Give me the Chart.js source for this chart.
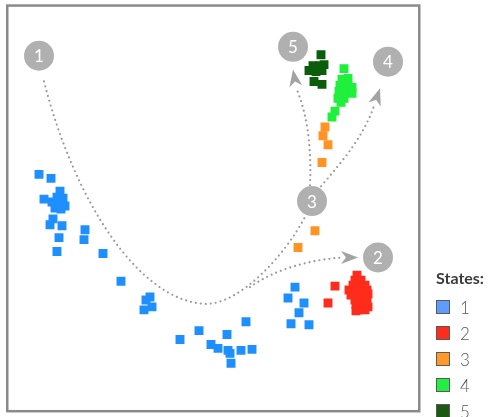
<!DOCTYPE html>
<html>
<head>
<meta charset="utf-8">
<script src="https://cdn.jsdelivr.net/npm/chart.js@4"></script>
<style>
  html, body { margin: 0; padding: 0; background: #fff; }
  #wrap { position: relative; width: 491px; height: 417px; }
  #legend { position: absolute; left: 436px; top: 268px; font-family: Lato, "Open Sans", sans-serif; color: #555; }
  #legend .title { font-weight: bold; font-size: 16px; color: #3a3a3a; margin-bottom: 7px; }
  #legend .item { height: 26px; display: flex; align-items: center; font-size: 17px; font-weight: 300; }
  #legend .sw { width: 12px; height: 12px; border: 1px solid #5a5a5a; margin-right: 10px; }
</style>
</head>
<body>
<div id="wrap">
  <canvas id="chart" width="491" height="417"></canvas>
  <div id="legend"></div>
</div>
<script>
"use strict";

// embedding coordinates, arbitrary units
var state1 = [
  [31, 239], [43, 235], [52, 222], [36, 214], [49, 216], [55, 215], [44, 211], [51, 209],
  [57, 207], [47, 205], [53, 204], [45, 194], [42, 188], [54, 187], [51, 175], [77, 183],
  [76, 173], [49, 161], [95, 159], [113, 131], [142, 115], [138, 112], [144, 105], [136, 102],
  [172, 72], [191, 81], [203, 67], [210, 63], [219, 77], [220, 61], [222, 58], [223, 48],
  [233, 61], [238, 90], [244, 62], [287, 125], [280, 114], [296, 109], [291, 99], [283, 88],
  [301, 87]
];
var state2 = [
  [327, 126], [320, 109],
  [349, 137], [347, 132], [353, 132], [345, 127], [351, 127], [357, 127], [341, 122], [347, 122],
  [353, 122], [359, 122], [343, 117], [349, 117], [355, 117], [360, 118], [347, 112], [353, 112],
  [359, 110], [348, 107], [354, 106], [360, 105], [351, 102], [357, 102], [348, 101]
];
var state3 = [[317, 287], [315, 278], [320, 269], [314, 251], [307, 182], [290, 165]];
var state4 = [
  [336, 346], [334, 335], [340, 336], [332, 329], [338, 329], [344, 327], [331, 323], [337, 322],
  [344, 321], [330, 316], [336, 316], [333, 312], [327, 303], [324, 297]
];
var state5 = [[313, 360], [305, 349], [312, 349], [316, 350], [301, 344], [308, 343], [314, 344], [306, 333], [314, 330]];

var stateNames = ["1", "2", "3", "4", "5"];
var stateColors = ["#1e8fff", "#ff2c1c", "#ff9425", "#1ef03c", "#0b5d0c"];
var legendColors = ["#5c9dff", "#ff2c1c", "#ff9a2a", "#22ee44", "#1a5a10"];

// numbered stage markers and the dotted transitions between them
var stageLabels = [
  { text: "1", x: 31, y: 359 }, { text: "2", x: 370, y: 155 }, { text: "3", x: 304, y: 212 },
  { text: "4", x: 380, y: 353 }, { text: "5", x: 285, y: 368 }
];
var paths = [
  { pts: [[36, 333], [67, 210], [132, 110], [198, 108], [232, 108], [277, 157], [297, 196]] },
  { pts: [[242, 125], [267, 143], [302, 153], [336, 155]], tip: [350, 155] },
  { pts: [[302, 228], [304, 275], [297, 305], [288, 327]], tip: [285, 345] },
  { pts: [[313, 227], [337, 255], [357, 280], [367, 311]], tip: [372, 326] }
];

var pointsOf = function (arr) { return arr.map(function (p) { return { x: p[0], y: p[1] }; }); };
var seriesData = [state1, state2, state3, state4, state5];

var overlay = {
  id: "overlay",
  beforeDraw: function (chart) {
    var ctx = chart.ctx, a = chart.chartArea;
    ctx.save();
    ctx.strokeStyle = "#8a8a8a";
    ctx.lineWidth = 2.5;
    ctx.strokeRect(a.left - 0.75, a.top - 0.75, a.right - a.left + 1, a.bottom - a.top + 1.25);
    ctx.restore();
  },
  afterDatasetsDraw: function (chart) {
    var ctx = chart.ctx, xs = chart.scales.x, ys = chart.scales.y;
    var px = function (p) { return [xs.getPixelForValue(p[0]), ys.getPixelForValue(p[1])]; };
    ctx.save();
    paths.forEach(function (path) {
      var q = path.pts.map(px);
      ctx.beginPath();
      ctx.moveTo(q[0][0], q[0][1]);
      for (var i = 1; i + 2 < q.length; i += 3) {
        ctx.bezierCurveTo(q[i][0], q[i][1], q[i + 1][0], q[i + 1][1], q[i + 2][0], q[i + 2][1]);
      }
      ctx.setLineDash([0, 5]);
      ctx.lineCap = "round";
      ctx.lineWidth = 2.2;
      ctx.strokeStyle = "#9a9a9a";
      ctx.stroke();
      if (path.tip) {
        var end = q[q.length - 1], tip = px(path.tip);
        var dx = tip[0] - end[0], dy = tip[1] - end[1], len = Math.hypot(dx, dy);
        dx /= len; dy /= len;
        var bx = tip[0] - dx * 17, by = tip[1] - dy * 17;
        ctx.setLineDash([]);
        ctx.fillStyle = "#a3a3a3";
        ctx.beginPath();
        ctx.moveTo(tip[0], tip[1]);
        ctx.lineTo(bx - dy * 6.5, by + dx * 6.5);
        ctx.lineTo(tip[0] - dx * 12, tip[1] - dy * 12);
        ctx.lineTo(bx + dy * 6.5, by - dx * 6.5);
        ctx.closePath();
        ctx.fill();
      }
    });
    ctx.setLineDash([]);
    stageLabels.forEach(function (s) {
      var c = px([s.x, s.y]);
      ctx.beginPath();
      ctx.arc(c[0], c[1], 15, 0, Math.PI * 2);
      ctx.fillStyle = "#b0b0b0";
      ctx.fill();
      ctx.fillStyle = "#fff";
      ctx.font = "17px Lato, sans-serif";
      ctx.textAlign = "center";
      ctx.textBaseline = "middle";
      ctx.fillText(s.text, c[0], c[1] + 1);
    });
    ctx.restore();
  }
};

new Chart(document.getElementById("chart"), {
  type: "scatter",
  data: {
    datasets: seriesData.map(function (arr, i) {
      return {
        label: stateNames[i],
        data: pointsOf(arr),
        pointStyle: "rect",
        pointRadius: 6.3,
        pointHoverRadius: 6.3,
        backgroundColor: stateColors[i],
        borderColor: stateColors[i],
        borderWidth: 0
      };
    })
  },
  options: {
    responsive: false,
    animation: false,
    layout: { padding: { left: 8, top: 6, right: 72, bottom: 2 } },
    scales: {
      x: { type: "linear", min: 0, max: 411, display: false },
      y: { type: "linear", min: 0, max: 409, display: false }
    },
    plugins: { legend: { display: false }, tooltip: { enabled: false } }
  },
  plugins: [overlay]
});

var legend = document.getElementById("legend");
var html = '<div class="title">States:</div>';
stateNames.forEach(function (n, i) {
  html += '<div class="item"><span class="sw" style="background:' + legendColors[i] + '"></span>' + n + '</div>';
});
legend.innerHTML = html;
</script>
</body>
</html>
